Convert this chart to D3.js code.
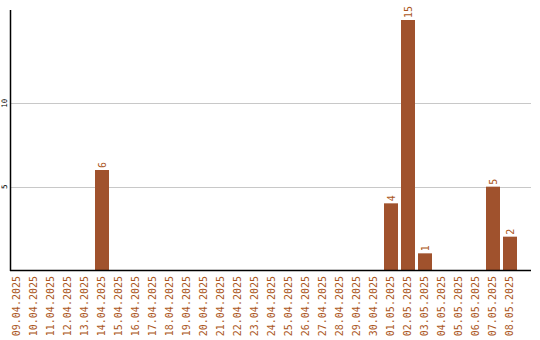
<!DOCTYPE html>
<html>
<head>
<meta charset="utf-8">
<script src="https://cdn.jsdelivr.net/npm/d3@7"></script>
<style>
  body { margin: 0; background: #fff; }
  text { font-family: "DejaVu Sans Mono", monospace; }
</style>
</head>
<body>
<div id="chart"></div>
<script>
// Dates shown on the x axis
const dates = [
  '09.04.2025', '10.04.2025', '11.04.2025', '12.04.2025', '13.04.2025',
  '14.04.2025', '15.04.2025', '16.04.2025', '17.04.2025', '18.04.2025',
  '19.04.2025', '20.04.2025', '21.04.2025', '22.04.2025', '23.04.2025',
  '24.04.2025', '25.04.2025', '26.04.2025', '27.04.2025', '28.04.2025',
  '29.04.2025', '30.04.2025', '01.05.2025', '02.05.2025', '03.05.2025',
  '04.05.2025', '05.05.2025', '06.05.2025', '07.05.2025', '08.05.2025'
];
// Count per date
const counts = [
  0, 0, 0, 0, 0, 6, 0, 0, 0, 0,
  0, 0, 0, 0, 0, 0, 0, 0, 0, 0,
  0, 0, 4, 15, 1, 0, 0, 0, 5, 2
];
// y gridlines / tick labels
const yTicks = [5, 10];

const w = 540;
const h = 340;
const plotLeft = 10;
const plotRight = 531;
const plotTop = 10;
const plotBottom = 270;
const barColor = '#a0522d';
const labelColor = '#ab5622';

const svg = d3.select('#chart')
  .append('svg')
  .attr('width', w)
  .attr('height', h);

const data = dates.map((d, i) => ({ date: d, value: counts[i] }));

// Scales
const xScale = d3.scaleBand()
  .domain(dates)
  .range([plotLeft, 517])
  .paddingInner(3 / 17)
  .paddingOuter(0);

const yScale = d3.scaleLinear()
  .domain([0, d3.max(counts) * 1.04])
  .range([plotBottom, plotTop]);

// Gridlines
svg.selectAll('line.grid')
  .data(yTicks)
  .enter()
  .append('line')
  .attr('class', 'grid')
  .attr('x1', plotLeft)
  .attr('x2', plotRight)
  .attr('y1', (d) => Math.round(yScale(d)) + 0.5)
  .attr('y2', (d) => Math.round(yScale(d)) + 0.5)
  .attr('stroke', '#c8c8c8')
  .attr('stroke-width', 1);

// y tick labels (rotated)
svg.selectAll('text.ytick')
  .data(yTicks)
  .enter()
  .append('text')
  .attr('class', 'ytick')
  .attr('transform', (d) => 'translate(7,' + yScale(d) + ') rotate(-90)')
  .attr('text-anchor', 'middle')
  .attr('font-size', 7.5)
  .attr('fill', '#000')
  .text((d) => d);

// Bars
svg.selectAll('rect.bar')
  .data(data.filter((d) => d.value > 0))
  .enter()
  .append('rect')
  .attr('class', 'bar')
  .attr('x', (d) => xScale(d.date))
  .attr('width', xScale.bandwidth())
  .attr('y', (d) => yScale(d.value))
  .attr('height', (d) => plotBottom - yScale(d.value))
  .attr('fill', barColor);

// Value labels above bars
svg.selectAll('text.val')
  .data(data.filter((d) => d.value > 0))
  .enter()
  .append('text')
  .attr('class', 'val')
  .attr('transform', (d) =>
    'translate(' + (xScale(d.date) + xScale.bandwidth() / 2 + 3.5) + ',' + (yScale(d.value) - 2) + ') rotate(-90)')
  .attr('text-anchor', 'start')
  .attr('font-size', 10)
  .attr('fill', labelColor)
  .text((d) => d.value);

// x labels (rotated)
svg.selectAll('text.xlab')
  .data(dates)
  .enter()
  .append('text')
  .attr('class', 'xlab')
  .attr('transform', (d) =>
    'translate(' + (xScale(d) + xScale.bandwidth() / 2 + 2.5) + ',' + (plotBottom + 6) + ') rotate(-90)')
  .attr('text-anchor', 'end')
  .attr('font-size', 10)
  .attr('fill', labelColor)
  .text((d) => d);

// Axis lines
svg.append('line')
  .attr('x1', plotLeft + 0.5).attr('x2', plotLeft + 0.5)
  .attr('y1', plotTop).attr('y2', plotBottom + 1)
  .attr('stroke', '#000').attr('stroke-width', 1.5);

svg.append('line')
  .attr('x1', plotLeft).attr('x2', plotRight)
  .attr('y1', plotBottom + 0.5).attr('y2', plotBottom + 0.5)
  .attr('stroke', '#000').attr('stroke-width', 1.5);
</script>
</body>
</html>
